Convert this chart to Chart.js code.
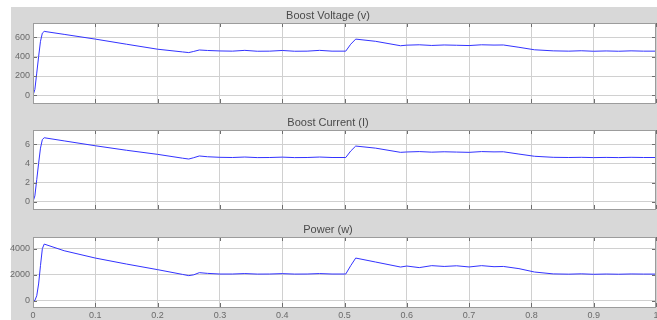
<!DOCTYPE html>
<html>
<head>
<meta charset="utf-8">
<script src="https://cdn.jsdelivr.net/npm/chart.js@4/dist/chart.umd.min.js"></script>
<style>
  html, body { margin: 0; padding: 0; background: #fff; }
  #fig { position: relative; width: 657px; height: 320px; overflow: hidden; }
  #bg { position: absolute; left: 11px; top: 7px; right: 0; bottom: 0; background: #d8d8d8; }
  canvas { position: absolute; left: 0; }
</style>
</head>
<body>
<div id="fig">
  <div id="bg"></div>
  <canvas id="cV" width="657" height="107" style="top:0px"></canvas>
  <canvas id="cI" width="657" height="107" style="top:107px"></canvas>
  <canvas id="cP" width="657" height="106" style="top:214px"></canvas>
</div>
<script>
// Simulation time (s)
const t = [0, 0.003, 0.006, 0.009, 0.012, 0.015, 0.018, 0.05, 0.1, 0.15, 0.2,
  0.24, 0.25, 0.258, 0.267, 0.28, 0.3,
  0.32, 0.34, 0.36, 0.38, 0.4, 0.42, 0.44, 0.46, 0.48, 0.502,
  0.51, 0.518, 0.55, 0.59, 0.6,
  0.62, 0.64, 0.66, 0.68, 0.7, 0.72, 0.74, 0.755,
  0.78, 0.805, 0.835,
  0.86, 0.88, 0.9, 0.92, 0.94, 0.96, 0.98, 1.0];

// Boost converter output voltage (V)
const voltage = [0, 60, 230, 400, 560, 645, 663, 632, 583, 530, 478,
  450, 443, 455, 470, 465, 460,
  458, 466, 457, 458, 465, 457, 458, 466, 458, 458,
  530, 583, 560, 514, 520,
  524, 517, 522, 519, 516, 524, 521, 522,
  498, 472, 461,
  458, 462, 457, 460, 457, 461, 458, 458];

// Boost converter output current (A)
const current = [0, 0.6, 2.3, 4.0, 5.6, 6.5, 6.69, 6.36, 5.85, 5.38, 4.95,
  4.55, 4.46, 4.6, 4.78, 4.7, 4.64,
  4.62, 4.67, 4.61, 4.62, 4.66, 4.61, 4.62, 4.67, 4.62, 4.62,
  5.3, 5.82, 5.6, 5.16, 5.2,
  5.24, 5.18, 5.22, 5.19, 5.16, 5.24, 5.21, 5.22,
  4.98, 4.75, 4.64,
  4.62, 4.64, 4.61, 4.63, 4.61, 4.64, 4.62, 4.62];

// Output power (W)
const power = [0, 40, 400, 1300, 2700, 4000, 4349, 3840, 3281, 2823, 2395,
  2030, 1937, 2000, 2166, 2110, 2060,
  2060, 2095, 2055, 2060, 2090, 2055, 2060, 2095, 2060, 2060,
  2700, 3281, 2976, 2594, 2670,
  2550, 2700, 2640, 2690, 2600, 2700, 2620, 2640,
  2472, 2213, 2070,
  2050, 2075, 2040, 2060, 2045, 2065, 2055, 2055];

const xTicks = [0, 0.1, 0.2, 0.3, 0.4, 0.5, 0.6, 0.7, 0.8, 0.9, 1];
const vTicks = [0, 200, 400, 600];
const iTicks = [0, 2, 4, 6];
const pTicks = [0, 2000, 4000];

const FONT = '"Liberation Sans", Arial, Helvetica, sans-serif';

// White plot box, inward tick marks and frame, like a scope display
const framePlugin = {
  id: 'frame',
  beforeDraw(chart) {
    const a = chart.chartArea, c = chart.ctx;
    c.save();
    c.fillStyle = '#ffffff';
    c.fillRect(a.left, a.top, a.right - a.left, a.bottom - a.top);
    c.restore();
  },
  afterDraw(chart) {
    const a = chart.chartArea, c = chart.ctx;
    const xs = chart.scales.x, ys = chart.scales.y;
    const L = 4;
    c.save();
    c.strokeStyle = '#6e6e6e';
    c.lineWidth = 1;
    c.beginPath();
    xs.ticks.forEach(tk => {
      const px = Math.round(xs.getPixelForValue(tk.value)) + 0.5;
      c.moveTo(px, a.top); c.lineTo(px, a.top + L);
      c.moveTo(px, a.bottom); c.lineTo(px, a.bottom - L);
    });
    ys.ticks.forEach(tk => {
      const py = Math.round(ys.getPixelForValue(tk.value)) + 0.5;
      c.moveTo(a.left, py); c.lineTo(a.left + L, py);
      c.moveTo(a.right, py); c.lineTo(a.right - L, py);
    });
    c.stroke();
    c.strokeStyle = '#9c9c9c';
    c.strokeRect(Math.round(a.left) + 0.5, Math.round(a.top) + 0.5,
      Math.round(a.right - a.left) - 1, Math.round(a.bottom - a.top));
    c.restore();
  }
};

function makeChart(id, title, values, yMin, yMax, yTicks, showX, xHeight) {
  return new Chart(document.getElementById(id), {
    type: 'line',
    data: {
      datasets: [{
        data: t.map((x, i) => ({ x: x, y: values[i] })),
        borderColor: '#3333ff',
        borderWidth: 1,
        pointRadius: 0,
        tension: 0,
        fill: false
      }]
    },
    options: {
      responsive: false,
      animation: false,
      devicePixelRatio: 1,
      layout: { padding: { left: 0, right: 1, top: 0, bottom: 0 } },
      plugins: {
        legend: { display: false },
        tooltip: { enabled: false },
        title: {
          display: true,
          text: title,
          color: '#4a4a4a',
          font: { family: FONT, size: 11, weight: 'normal' },
          padding: { top: 9, bottom: 0.8 }
        }
      },
      scales: {
        x: {
          type: 'linear',
          min: 0, max: 1,
          afterBuildTicks: s => { s.ticks = xTicks.map(v => ({ value: v })); },
          afterFit: s => { s.height = xHeight; s.paddingLeft = 0; s.paddingRight = 0; },
          grid: { color: '#d0d0d0', drawTicks: false },
          border: { display: false },
          ticks: {
            display: showX,
            padding: 3,
            maxRotation: 0,
            autoSkip: false,
            color: '#6a6a6a',
            font: { family: FONT, size: 9 },
            callback: v => String(v)
          }
        },
        y: {
          type: 'linear',
          min: yMin, max: yMax,
          afterBuildTicks: s => { s.ticks = yTicks.map(v => ({ value: v })); },
          afterFit: s => { s.width = 33; s.paddingTop = 0; s.paddingBottom = 0; },
          grid: { color: '#d0d0d0', drawTicks: false },
          border: { display: false },
          ticks: {
            padding: 3,
            autoSkip: false,
            color: '#6a6a6a',
            font: { family: FONT, size: 9 },
            callback: v => String(v)
          }
        }
      }
    },
    plugins: [framePlugin]
  });
}

makeChart('cV', 'Boost Voltage (v)', voltage, -80, 750, vTicks, false, 4);
makeChart('cI', 'Boost Current (I)', current, -0.77, 7.5, iTicks, false, 5);
makeChart('cP', 'Power (w)', power, -460, 4890, pTicks, true, 13);
</script>
</body>
</html>
